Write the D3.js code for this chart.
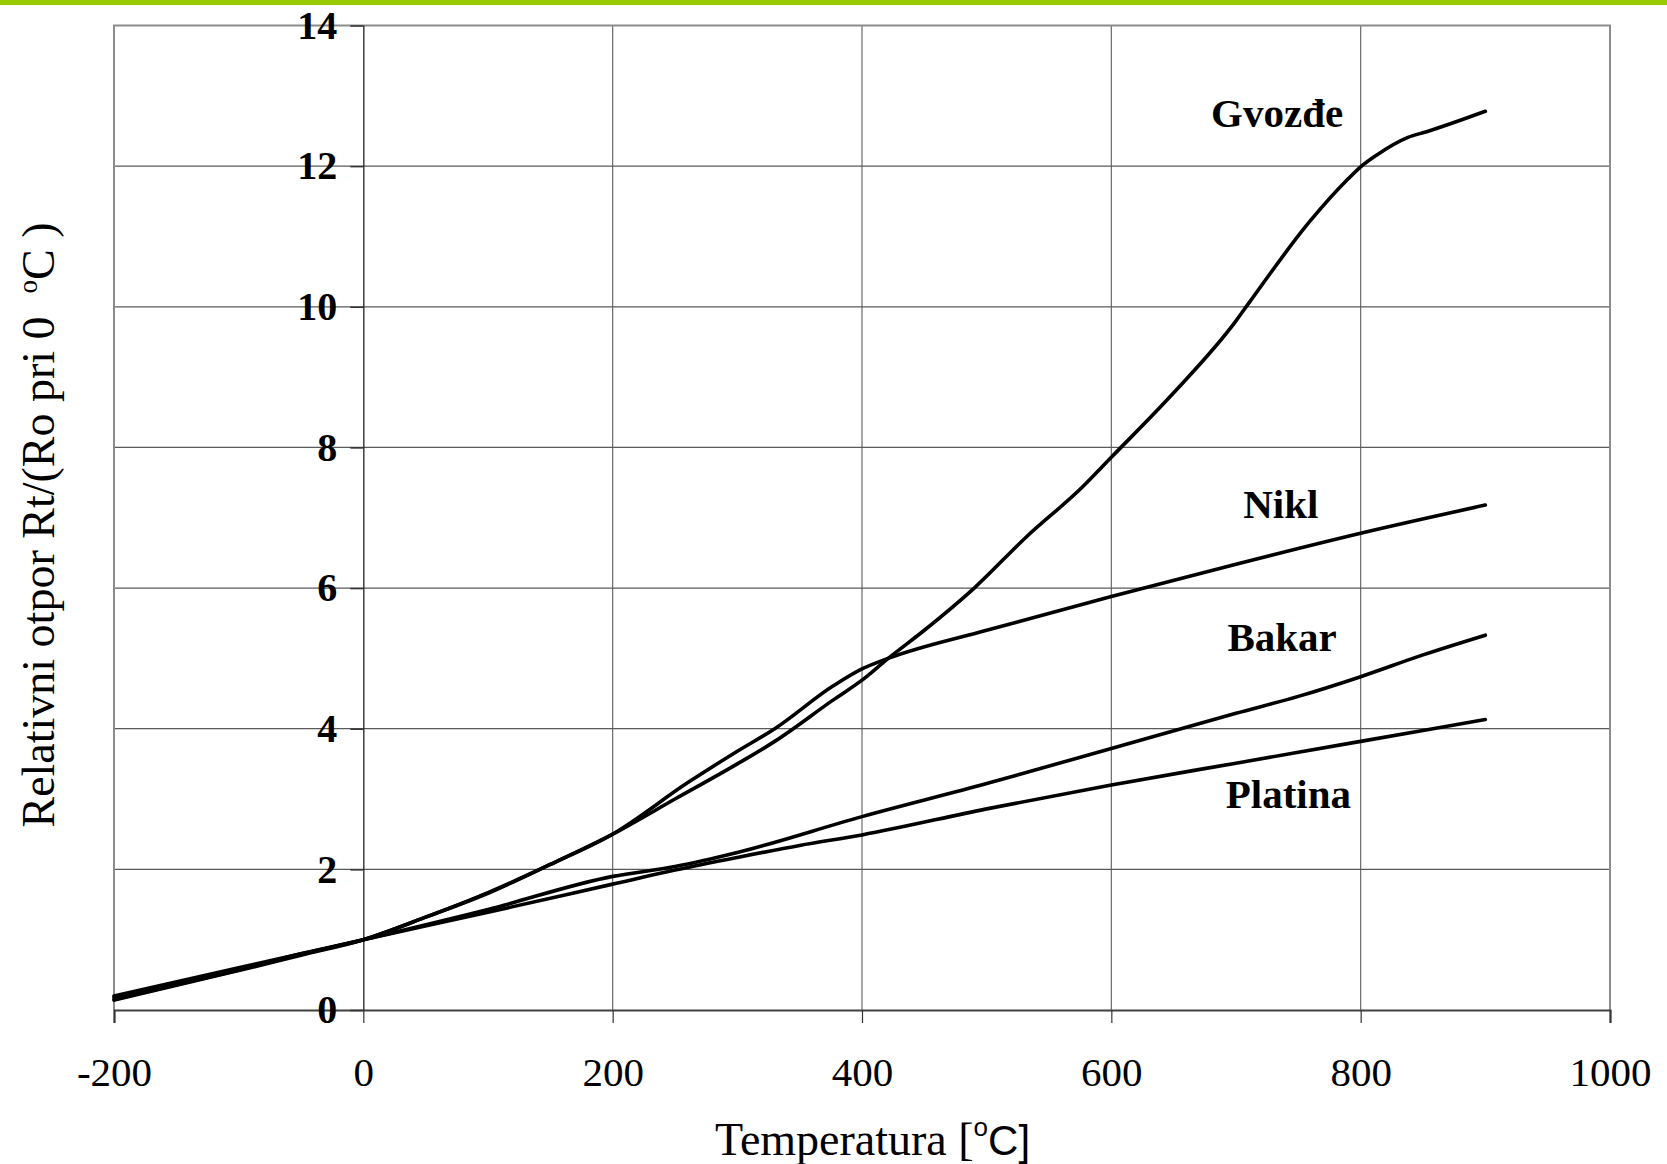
<!DOCTYPE html>
<html lang="sr">
<head>
<meta charset="UTF-8">
<title>Relativni otpor metala</title>
<script src="https://d3js.org/d3.v7.min.js"></script>
<style>
  body { margin: 0; background: #fff; }
  svg { display: block; }
</style>
</head>
<body>
<svg id="chart" width="1667" height="1164"></svg>
<script>
// tick values
const xTicks = [-200, 0, 200, 400, 600, 800, 1000];
const yTicks = [0, 2, 4, 6, 8, 10, 12, 14];

// series: [temperature, Rt/R0]
const gvozdje = [[-200, 0.14], [-100, 0.56], [-50, 0.78], [0, 1.0], [50, 1.32], [100, 1.67],
  [150, 2.07], [200, 2.5], [250, 3.0], [300, 3.5], [330, 3.82], [377, 4.41], [400, 4.69],
  [421, 5.0], [450, 5.4], [490, 6.0], [532, 6.73], [577, 7.44], [600, 7.86], [647, 8.72],
  [700, 9.8], [711, 10.07], [759, 11.21], [790, 11.82], [800, 11.99], [813, 12.16],
  [838, 12.41], [853, 12.49], [900, 12.78]];
const nikl = [[-200, 0.18], [-100, 0.58], [-50, 0.8], [0, 1.0], [50, 1.32], [100, 1.66],
  [150, 2.07], [200, 2.5], [260, 3.23], [300, 3.68], [330, 4.0], [377, 4.61], [400, 4.85],
  [421, 5.0], [500, 5.4], [600, 5.88], [700, 6.34], [800, 6.78], [900, 7.18]];
const bakar = [[-200, 0.15], [-100, 0.57], [-50, 0.79], [0, 1.0], [100, 1.43], [200, 1.9],
  [250, 2.04], [300, 2.24], [400, 2.75], [500, 3.22], [600, 3.72], [700, 4.22], [750, 4.46],
  [800, 4.74], [850, 5.05], [900, 5.33]];
const platina = [[-200, 0.2], [-100, 0.6], [-50, 0.8], [0, 1.0], [100, 1.39], [200, 1.79],
  [250, 1.99], [300, 2.17], [350, 2.34], [400, 2.49], [500, 2.86], [600, 3.2], [700, 3.51],
  [800, 3.82], [900, 4.13]];

const seriesNames = ["Gvozđe", "Nikl", "Bakar", "Platina"];
const seriesData = [gvozdje, nikl, bakar, platina];

const serif = '"Times New Roman", "Liberation Serif", serif';
const sans = 'Arial, "Liberation Sans", sans-serif';

const svg = d3.select("#chart");

// green strip on top
svg.append("rect").attr("x", 0).attr("y", 0).attr("width", 1667).attr("height", 5)
  .attr("fill", "#99cc00");

const x = d3.scaleLinear().domain([-200, 1000]).range([114, 1610]);
const y = d3.scaleLinear().domain([0, 14]).range([1010, 25.5]);

// grid
svg.append("g").selectAll("line")
  .data(xTicks.filter(d => d > -200 && d < 1000 && d !== 0))
  .join("line")
  .attr("x1", d => x(d)).attr("x2", d => x(d))
  .attr("y1", y(0)).attr("y2", y(14))
  .attr("stroke", "#6a6a6a").attr("stroke-width", 1.2);

svg.append("g").selectAll("line")
  .data(yTicks.filter(d => d > 0 && d < 14))
  .join("line")
  .attr("x1", x(-200)).attr("x2", x(1000))
  .attr("y1", d => y(d)).attr("y2", d => y(d))
  .attr("stroke", "#5a5a5a").attr("stroke-width", 1.2);

// frame (left, top, right)
svg.append("path")
  .attr("d", `M${x(-200)},${y(0)}V${y(14)}H${x(1000)}V${y(0)}`)
  .attr("fill", "none").attr("stroke", "#8c8c8c").attr("stroke-width", 2);

// x axis along y = 0
const xAxis = svg.append("g")
  .attr("transform", `translate(0,${y(0)})`)
  .call(d3.axisBottom(x).tickValues(xTicks).tickSize(13).tickPadding(34).tickFormat(d => String(d)));
xAxis.select(".domain").attr("stroke", "#404040").attr("stroke-width", 2.2);
xAxis.selectAll(".tick line").attr("stroke", "#333").attr("stroke-width", 1.2);
xAxis.selectAll(".tick text").attr("font-family", serif).attr("font-size", 41).attr("fill", "#000");

// y axis along x = 0
const yAxis = svg.append("g")
  .attr("transform", `translate(${x(0)},0)`)
  .call(d3.axisLeft(y).tickValues(yTicks).tickSize(13).tickPadding(13));
yAxis.select(".domain").attr("stroke", "#222").attr("stroke-width", 1.3)
  .attr("d", `M0.5,${y(0)}V${y(14)}`);
yAxis.selectAll(".tick line").attr("stroke", "#333").attr("stroke-width", 1.5);
yAxis.selectAll(".tick text").attr("font-family", serif).attr("font-size", 40)
  .attr("font-weight", "bold").attr("fill", "#000");

// series lines
const line = d3.line().x(d => x(d[0])).y(d => y(d[1])).curve(d3.curveMonotoneX);
svg.append("g").selectAll("path")
  .data(seriesData)
  .join("path")
  .attr("d", line)
  .attr("fill", "none")
  .attr("stroke", "#000")
  .attr("stroke-width", 3.6)
  .attr("stroke-linejoin", "round")
  .attr("stroke-linecap", "round");

// series labels (data coordinates of label baseline centres)
const labelAt = [[733, 12.56], [736, 6.99], [737, 5.1], [742, 2.87]];
svg.append("g").selectAll("text")
  .data(seriesNames)
  .join("text")
  .attr("x", (d, i) => x(labelAt[i][0]))
  .attr("y", (d, i) => y(labelAt[i][1]))
  .attr("text-anchor", "middle")
  .attr("font-family", serif)
  .attr("font-weight", "bold")
  .attr("font-size", 41)
  .text(d => d);

// x axis title
const xt = svg.append("text")
  .attr("x", 715).attr("y", 1155)
  .attr("font-family", serif).attr("font-size", 46);
xt.append("tspan").text("Temperatura [");
xt.append("tspan").attr("font-family", sans).attr("font-size", 26).attr("dy", -19).text("o");
xt.append("tspan").attr("font-family", sans).attr("font-size", 42).attr("dy", 19).text("C]");

// y axis title
const yt = svg.append("text")
  .attr("transform", "translate(54,525) rotate(-90)")
  .attr("text-anchor", "middle")
  .attr("font-family", serif).attr("font-size", 46);
yt.append("tspan").text("Relativni otpor Rt/(Ro pri 0\u00a0\u00a0");
yt.append("tspan").attr("font-size", 27).attr("dy", -17).text("o");
yt.append("tspan").attr("dy", 17).text("C )");
</script>
</body>
</html>
